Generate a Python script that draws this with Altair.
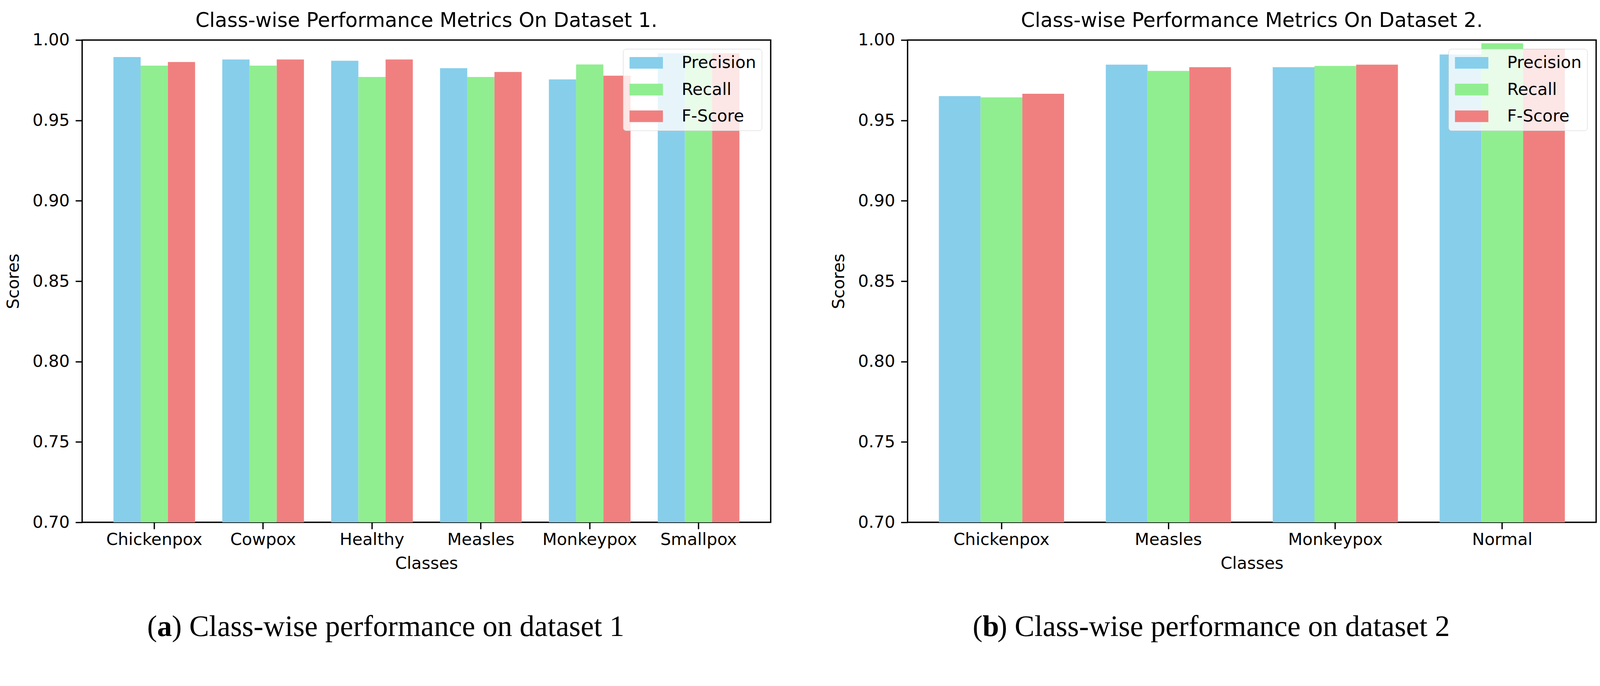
import altair as alt
import pandas as pd

metrics = ["Precision", "Recall", "F-Score"]
colors = ["#87CEEB", "#90EE90", "#F08080"]

classes1 = ["Chickenpox", "Cowpox", "Healthy", "Measles", "Monkeypox", "Smallpox"]
precision1 = [0.9894, 0.9879, 0.9871, 0.9825, 0.9755, 0.9918]
recall1 = [0.9841, 0.9841, 0.9770, 0.9770, 0.9848, 0.9918]
fscore1 = [0.9863, 0.9879, 0.9879, 0.9801, 0.9778, 0.9918]

classes2 = ["Chickenpox", "Measles", "Monkeypox", "Normal"]
precision2 = [0.9651, 0.9847, 0.9831, 0.9910]
recall2 = [0.9643, 0.9808, 0.9839, 0.9980]
fscore2 = [0.9666, 0.9831, 0.9847, 0.9945]

titles = ["Class-wise Performance Metrics On Dataset 1.",
          "Class-wise Performance Metrics On Dataset 2."]
cap_letters = ["a", "b"]
cap_rest = [") Class-wise performance on dataset 1",
            ") Class-wise performance on dataset 2"]
y_ticks = [0.70, 0.75, 0.80, 0.85, 0.90, 0.95, 1.00]

FONT = "DejaVu Sans"
SERIF = "Liberation Serif"
H = 1300


def make_df(classes, p, r, f):
    rows = []
    for c, a, b, d in zip(classes, p, r, f):
        rows.append({"Class": c, "Metric": "Precision", "Score": a})
        rows.append({"Class": c, "Metric": "Recall", "Score": b})
        rows.append({"Class": c, "Metric": "F-Score", "Score": d})
    return pd.DataFrame(rows)


def panel(classes, p, r, f, title, letter, rest, width, pad_outer):
    df = make_df(classes, p, r, f)
    bars = alt.Chart(df).mark_bar(stroke=None).encode(
        x=alt.X("Class:N", sort=classes,
                scale=alt.Scale(paddingInner=0.25, paddingOuter=pad_outer),
                axis=alt.Axis(title="Classes", labelAngle=0, labelPadding=7,
                              titlePadding=19, labelLimit=0)),
        xOffset=alt.XOffset("Metric:N", sort=metrics,
                            scale=alt.Scale(domain=metrics, paddingInner=0, paddingOuter=0)),
        y=alt.Y("Score:Q", scale=alt.Scale(domain=[0.7, 1.0], zero=False, nice=False),
                axis=alt.Axis(title="Scores", values=y_ticks, format=".2f",
                              labelPadding=16, titlePadding=28)),
        y2=alt.datum(0.7),
        color=alt.Color("Metric:N", sort=metrics,
                        scale=alt.Scale(domain=metrics, range=colors),
                        legend=alt.Legend(title=None, orient="top-right", offset=24,
                                          labelFontSize=45, labelFont=FONT,
                                          symbolType="M-2,-0.7H2V0.7H-2Z",
                                          symbolSize=2025, symbolStrokeWidth=0,
                                          symbolOpacity=1, rowPadding=26,
                                          symbolOffset=25, labelOffset=73, padding=15,
                                          fillColor="rgba(255,255,255,0.8)",
                                          strokeColor="#cccccc", cornerRadius=8,
                                          labelLimit=500)),
    )
    cap_df = pd.DataFrame({"open": ["("], "letter": [letter], "rest": [rest]})
    cap_base = alt.Chart(cap_df)
    cap_y = 1606
    c_open = cap_base.mark_text(font=SERIF, fontSize=80, align="right",
                                baseline="alphabetic", color="black").encode(
        text="open:N", x=alt.value(202), y=alt.value(cap_y))
    c_letter = cap_base.mark_text(font=SERIF, fontSize=80, fontWeight="bold", align="left",
                                  baseline="alphabetic", color="black").encode(
        text="letter:N", x=alt.value(202), y=alt.value(cap_y))
    c_rest = cap_base.mark_text(font=SERIF, fontSize=80, align="left",
                                baseline="alphabetic", color="black").encode(
        text="rest:N", x=alt.value(242), y=alt.value(cap_y))
    return alt.layer(bars, c_open, c_letter, c_rest).properties(
        width=width, height=H,
        title=alt.TitleParams(title, font=FONT, fontSize=54, fontWeight="normal",
                              offset=2, color="black"))


p1 = panel(classes1, precision1, recall1, fscore1, titles[0], cap_letters[0], cap_rest[0],
           1856, 0.2875)
p2 = panel(classes2, precision2, recall2, fscore2, titles[1], cap_letters[1], cap_rest[1],
           1856, 0.1875)

chart = alt.hconcat(p1, p2, spacing=158).resolve_legend(color="independent").resolve_scale(
    x="independent", xOffset="independent").properties(
    padding={"left": 4, "top": -25, "right": 0, "bottom": 0}
).configure_view(stroke="black", strokeWidth=3.6).configure_axis(
    labelFont=FONT, labelFontSize=45, labelColor="black",
    titleFont=FONT, titleFontSize=45, titleFontWeight="normal", titleColor="black",
    tickColor="black", tickWidth=3.5, tickSize=18, domain=False, grid=False
).configure_title(anchor="middle")

chart.save("out.html", embed_options={"renderer": "svg", "actions": False})
